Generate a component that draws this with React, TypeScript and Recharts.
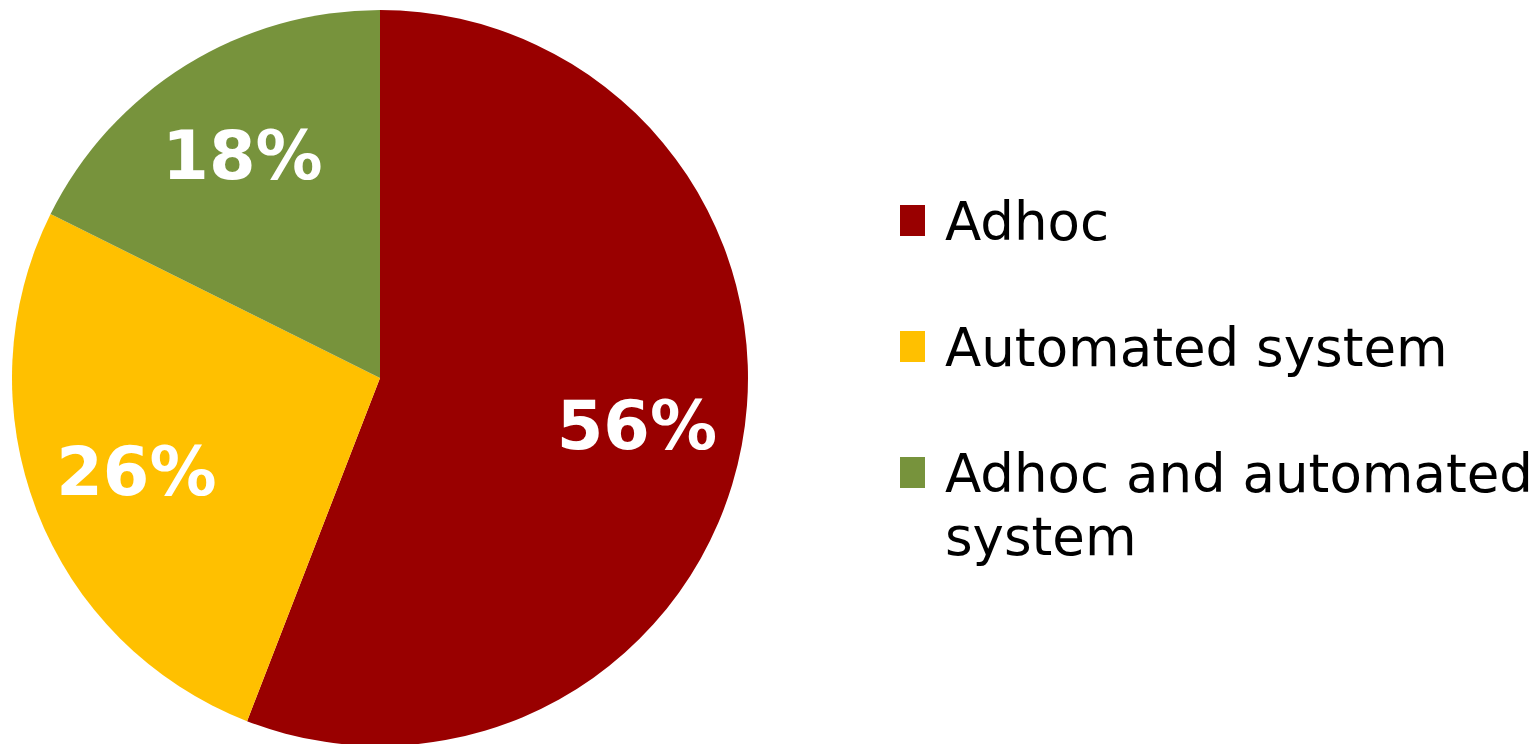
import React from "react";
import { PieChart, Pie, Cell, Legend } from "recharts";

const categories = ["Adhoc", "Automated system", "Adhoc and automated system"];
// respondent counts; labels show the rounded share of the total
const counts = [19, 9, 6];
const colors = ["#990000", "#FFC000", "#77933C"];

const data = categories.map((name, i) => ({ name, value: counts[i] }));

const RADIAN = Math.PI / 180;

// white bold percentage inside each slice
const renderLabel = ({ cx, cy, midAngle, outerRadius, percent }: any) => {
  const r = outerRadius * 0.71;
  const x = cx + r * Math.cos(-midAngle * RADIAN);
  const y = cy + r * Math.sin(-midAngle * RADIAN);
  return (
    <text
      x={x}
      y={y}
      fill="#ffffff"
      textAnchor="middle"
      dominantBaseline="central"
      style={{ fontFamily: "DejaVu Sans", fontWeight: "bold", fontSize: 67 }}
    >
      {`${Math.round(percent * 100)}%`}
    </text>
  );
};

const LegendContent = () => (
  <div style={{ fontFamily: "DejaVu Sans", fontSize: 53, lineHeight: "63px", color: "#000" }}>
    {data.map((d, i) => (
      <div key={d.name} style={{ display: "flex", alignItems: "flex-start", marginBottom: 63 }}>
        <div
          style={{
            width: 25,
            height: 31,
            marginTop: 15,
            marginRight: 20,
            background: colors[i],
            flexShrink: 0,
          }}
        />
        <div style={{ width: 590 }}>{d.name}</div>
      </div>
    ))}
  </div>
);

const App: React.FC = () => {
  return (
    <div style={{ width: 1535, height: 744, background: "#fff", overflow: "hidden" }}>
      <style>{`body { margin: 0; }`}</style>
      <PieChart width={1535} height={744} margin={{ top: 0, right: 0, bottom: 0, left: 0 }}>
        <Pie
          data={data}
          dataKey="value"
          nameKey="name"
          cx={380}
          cy={378}
          outerRadius={368}
          startAngle={90}
          endAngle={-270}
          stroke="none"
          label={renderLabel}
          labelLine={false}
          isAnimationActive={false}
        >
          {data.map((d, i) => (
            <Cell key={d.name} fill={colors[i]} />
          ))}
        </Pie>
        <Legend
          layout="vertical"
          align="right"
          verticalAlign="middle"
          content={<LegendContent />}
          wrapperStyle={{ position: "absolute", left: 900, top: 190, width: 635, height: 420 }}
        />
      </PieChart>
    </div>
  );
};

export default App;
